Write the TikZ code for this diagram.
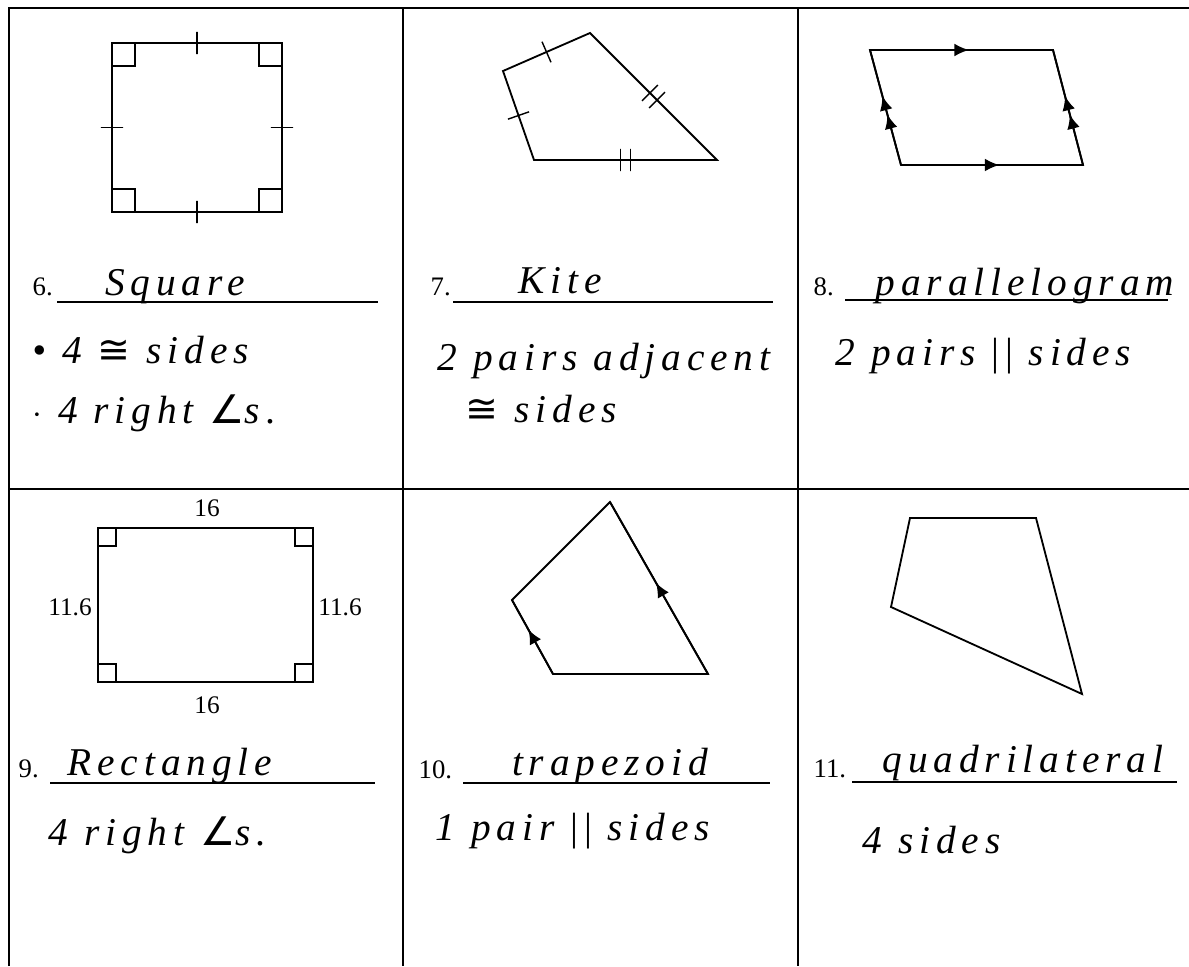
\documentclass[tikz,border=0pt]{standalone}
\usepackage{fontspec}
\setmainfont{Liberation Serif}
\newfontfamily\handfont{Liberation Serif}[LetterSpace=15]
\newfontfamily\symfont{DejaVu Sans}
\usetikzlibrary{arrows.meta,calc,decorations.markings}
\newcommand{\cng}{{\symfont\addfontfeature{LetterSpace=0}≅}}
\newcommand{\ang}{{\symfont\addfontfeature{LetterSpace=0}∠}}
\newcommand{\prl}{{\upshape||}}
\tikzset{
  >={Latex[length=3.6mm,width=3.2mm]},
  every picture/.style={line width=1pt},
  grid/.style={line width=1.2pt},
  fig/.style={line width=1.3pt,line join=miter},
  rule/.style={line width=0.8pt},
  tk/.style={sloped,draw,inner sep=0pt,minimum width=0pt,minimum height=5.6mm,line width=1pt},
  num/.style={font=\fontsize{19}{22}\selectfont,anchor=base west,inner sep=0pt},
  dim/.style={font=\fontsize{18}{21}\selectfont,inner sep=0pt},
  hand/.style={font=\handfont\fontsize{28}{32}\selectfont\itshape,anchor=base,inner sep=0pt},
  handl/.style={hand,anchor=base west},
  ar/.style={postaction={decorate,decoration={markings,mark=at position #1 with {\arrow{>}}}}},
  arr/.style 2 args={postaction={decorate,decoration={markings,
    mark=at position #1 with {\arrow{>}},mark=at position #2 with {\arrow{>}}}}},
}
\begin{document}
\begin{tikzpicture}[x=0.025cm,y=-0.025cm]
\useasboundingbox (0,0) rectangle (1189,966);
% table
\draw[grid] (9,966) -- (9,8) -- (1189,8);
\draw[grid] (9,489) -- (1189,489);
\foreach \x in {403,798} \draw[grid] (\x,8) -- (\x,966);

% 6. square
\coordinate (sqA) at (112,43); \coordinate (sqB) at (282,43);
\coordinate (sqC) at (282,212); \coordinate (sqD) at (112,212);
\draw[fig] (sqA) -- node[tk]{} (sqB) -- node[tk]{} (sqC) -- node[tk]{} (sqD) -- node[tk]{} cycle;
\foreach \c/\sx/\sy in {sqA/1/1,sqB/-1/1,sqC/-1/-1,sqD/1/-1}
  \draw[fig] ($(\c)+(\sx*23,0)$) -- ($(\c)+(\sx*23,\sy*23)$) -- ($(\c)+(0,\sy*23)$);
\node[num] (n6) at (32,295) {6.};
\coordinate (u6a) at (57,302); \coordinate (u6b) at (378,302);
\draw[rule] (u6a) -- (u6b);
\node[hand] (a6) at (175,295) {Square};
\node[handl] (s6a) at (32,363) {\textbullet\ 4 \cng\ sides};
\node[handl] (s6b) at (32,423) {$\cdot$ 4 right \ang s.};

% 7. kite
\coordinate (kT) at (590,33); \coordinate (kL) at (503,71);
\coordinate (kB) at (534,160); \coordinate (kR) at (717,160);
\draw[fig] (kT) -- node[tk]{} (kL) -- node[tk]{} (kB)
  -- node[tk,pos=.473]{} node[tk,pos=.527]{} (kR)
  -- node[tk,pos=.472]{} node[tk,pos=.528]{} cycle;
\node[num] (n7) at (430,295) {7.};
\coordinate (u7a) at (453,302); \coordinate (u7b) at (773,302);
\draw[rule] (u7a) -- (u7b);
\node[hand] (a7) at (560,293) {Kite};
\node[handl] (s7a) at (437,370) {2 pairs adjacent};
\node[handl] (s7b) at (465,422) {\cng\ sides};

% 8. parallelogram
\coordinate (pA) at (870,50); \coordinate (pB) at (1053,50);
\coordinate (pC) at (1083,165); \coordinate (pD) at (901,165);
\draw[fig] (pA) -- (pB) -- (pC) -- (pD) -- cycle;
\draw[fig,ar=.54] (pA) -- (pB);
\draw[fig,ar=.54] (pD) -- (pC);
\draw[fig,arr={.44}{.6}] (pD) -- (pA);
\draw[fig,arr={.44}{.6}] (pC) -- (pB);
\node[num] (n8) at (813,295) {8.};
\coordinate (u8a) at (845,300); \coordinate (u8b) at (1168,300);
\draw[rule] (u8a) -- (u8b);
\node[hand] (a8) at (1025,295) {parallelogram};
\node[handl] (s8a) at (835,365) {2 pairs \prl\ sides};

% 9. rectangle
\coordinate (rA) at (98,528); \coordinate (rB) at (313,528);
\coordinate (rC) at (313,682); \coordinate (rD) at (98,682);
\draw[fig] (rA) -- (rB) -- (rC) -- (rD) -- cycle;
\foreach \c/\sx/\sy in {rA/1/1,rB/-1/1,rC/-1/-1,rD/1/-1}
  \draw[fig] ($(\c)+(\sx*18,0)$) -- ($(\c)+(\sx*18,\sy*18)$) -- ($(\c)+(0,\sy*18)$);
\node[dim] (w1) at (207,508) {16};
\node[dim] (w2) at (207,705) {16};
\node[dim] (h1) at (70,607) {11.6};
\node[dim] (h2) at (340,607) {11.6};
\node[num] (n9) at (18,777) {9.};
\coordinate (u9a) at (50,783); \coordinate (u9b) at (375,783);
\draw[rule] (u9a) -- (u9b);
\node[hand] (a9) at (170,775) {Rectangle};
\node[handl] (s9a) at (48,845) {4 right \ang s.};

% 10. trapezoid
\coordinate (tT) at (610,502); \coordinate (tL) at (512,600);
\coordinate (tB) at (553,674); \coordinate (tR) at (708,674);
\draw[fig] (tT) -- (tL) -- (tB) -- (tR) -- cycle;
\draw[fig,ar=.53] (tR) -- (tT);
\draw[fig,ar=.6] (tB) -- (tL);
\node[num] (n10) at (418,778) {10.};
\coordinate (u10a) at (463,783); \coordinate (u10b) at (770,783);
\draw[rule] (u10a) -- (u10b);
\node[hand] (a10) at (610,775) {trapezoid};
\node[handl] (s10a) at (435,840) {1 pair \prl\ sides};

% 11. quadrilateral
\coordinate (qA) at (910,518); \coordinate (qB) at (1036,518);
\coordinate (qC) at (1082,694); \coordinate (qD) at (891,607);
\draw[fig] (qA) -- (qB) -- (qC) -- (qD) -- cycle;
\node[num] (n11) at (813,777) {11.};
\coordinate (u11a) at (852,782); \coordinate (u11b) at (1177,782);
\draw[rule] (u11a) -- (u11b);
\node[hand] (a11) at (1023,772) {quadrilateral};
\node[handl] (s11a) at (862,853) {4 sides};
\end{tikzpicture}
\end{document}
